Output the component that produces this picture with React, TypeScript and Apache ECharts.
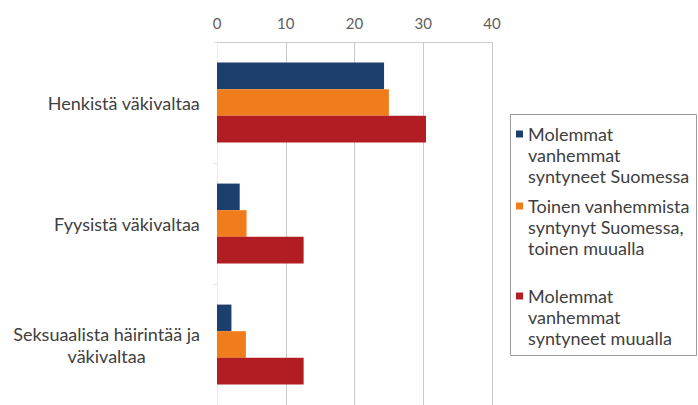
import React, { useEffect, useRef } from "react";
import * as echarts from "echarts";

const categories = [
  "Henkistä väkivaltaa",
  "Fyysistä väkivaltaa",
  "Seksuaalista häirintää ja\nväkivaltaa",
];
const seriesNames = [
  "Molemmat\nvanhemmat\nsyntyneet Suomessa",
  "Toinen vanhemmista\nsyntynyt Suomessa,\ntoinen muualla",
  "Molemmat\nvanhemmat\nsyntyneet muualla",
];
const bothFinland = [24.3, 3.3, 2.1];
const oneFinland = [25.0, 4.3, 4.2];
const bothAbroad = [30.4, 12.6, 12.6];
const xTicks = [0, 10, 20, 30, 40];
const colors = ["#1d3f6e", "#f07c1b", "#b21d24"];

const FONT = "Lato, 'Open Sans', sans-serif";

export default function App() {
  const ref = useRef<HTMLDivElement>(null);
  useEffect(() => {
    if (!ref.current) return;
    const chart = echarts.init(ref.current, undefined, { renderer: "svg" });
    const values = [bothFinland, oneFinland, bothAbroad];
    const legendFirstLineY = [134, 206, 296];
    const lineH = 21;
    chart.setOption({
      animation: false,
      textStyle: { fontFamily: FONT },
      grid: { left: 217, right: 206, top: 42, bottom: 0, containLabel: false },
      xAxis: {
        type: "value",
        position: "top",
        min: xTicks[0],
        max: xTicks[xTicks.length - 1],
        interval: 10,
        axisLine: { show: true, lineStyle: { color: "#d4cccc", width: 1 } },
        axisTick: { show: false },
        axisLabel: { color: "#606060", fontSize: 15, margin: 12, fontFamily: FONT },
        splitLine: { show: true, lineStyle: { color: "#c9c9c9", width: 1 } },
      },
      yAxis: {
        type: "category",
        inverse: true,
        data: categories,
        axisLine: { show: true, lineStyle: { color: "#ececec" } },
        axisTick: { show: true, length: 4, lineStyle: { color: "#e6e6e6" } },
        axisLabel: {
          margin: 17,
          color: "#404040",
          fontSize: 18,
          fontFamily: FONT,
          lineHeight: 22,
          align: "right",
          formatter: (v: string) => `{c|${v}}`,
          rich: { c: { align: "center", fontSize: 18, lineHeight: 22, color: "#404040", fontFamily: FONT } },
        },
      },
      legend: seriesNames.map((n, i) => ({
        data: [n],
        orient: "vertical",
        left: 516,
        top: legendFirstLineY[i] - lineH * 2.5,
        padding: 0,
        itemWidth: 7,
        itemHeight: 7,
        icon: "rect",
        selectedMode: false,
        formatter: (name: string) => "\n\n" + name,
        textStyle: {
          color: "#404040",
          fontSize: 18,
          fontFamily: FONT,
          lineHeight: lineH,
        },
      })),
      graphic: [
        {
          type: "rect",
          shape: { x: 510.5, y: 114.5, width: 186, height: 241 },
          style: { fill: "none", stroke: "#9a9a9a", lineWidth: 1 },
          z: -1,
        },
      ],
      series: seriesNames.map((n, i) => ({
        name: n,
        type: "bar",
        data: values[i],
        barGap: "0%",
        barCategoryGap: "34%",
        itemStyle: { color: colors[i] },
      })),
    });
    return () => chart.dispose();
  }, []);
  return (
    <div
      ref={ref}
      style={{ position: "absolute", left: 0, top: 0, width: 698, height: 405, background: "#fff" }}
    />
  );
}
